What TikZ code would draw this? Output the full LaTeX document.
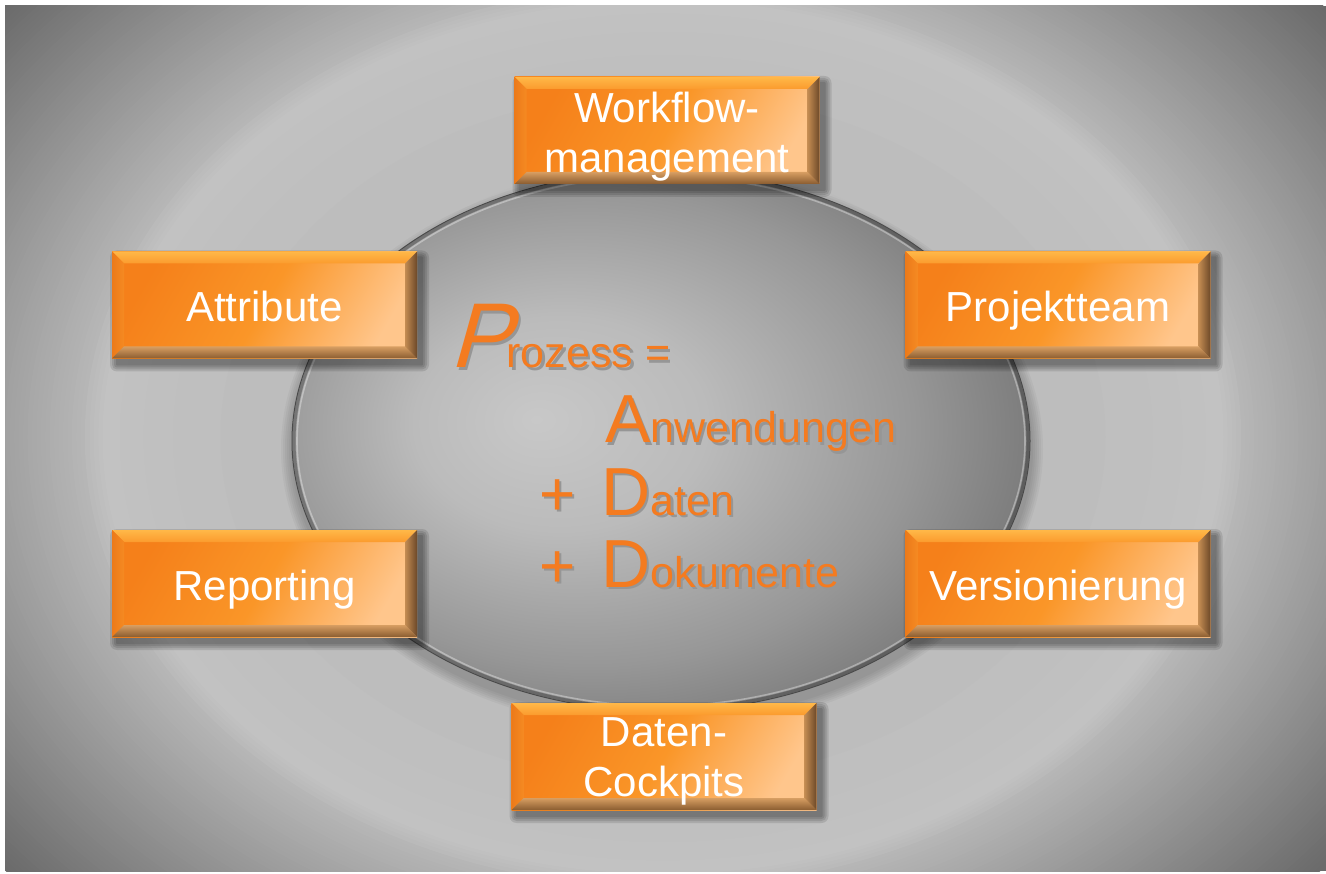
\documentclass[tikz,border=0pt]{standalone}
\usepackage{fontspec}
\setmainfont{Liberation Sans}
\newfontfamily\slantfont[FakeSlant=0.28]{Liberation Sans}
\definecolor{elA}{HTML}{C8C8C8}
\definecolor{elB}{HTML}{BBBBBB}
\definecolor{elC}{HTML}{979797}
\definecolor{elD}{HTML}{767676}
\definecolor{elE}{HTML}{5E5E5E}
\definecolor{elRim}{HTML}{4A4A4A}
\definecolor{orDeep}{HTML}{F5801A}
\definecolor{orMid}{HTML}{FA9628}
\definecolor{orLight}{HTML}{FFC68C}
\definecolor{bevTopA}{HTML}{FFB848}
\definecolor{bevTopB}{HTML}{FB9B2E}
\definecolor{bevLeftA}{HTML}{EC7A1A}
\definecolor{bevLeftB}{HTML}{F58A22}
\definecolor{bevBotA}{HTML}{D79E62}
\definecolor{bevBotB}{HTML}{8A5C30}
\definecolor{bevRightA}{HTML}{C48C52}
\definecolor{bevRightB}{HTML}{6C4828}
\definecolor{procOrange}{HTML}{F47B20}
\definecolor{txtShadow}{HTML}{969696}
\pgfdeclareradialshading{ellshade}{\pgfpoint{-8.5bp}{2bp}}{color(0bp)=(elA); color(9.9bp)=(elB); color(21.9bp)=(elC); color(30.4bp)=(elD); color(35.4bp)=(elE); color(50bp)=(elE)}
\newcommand\shtxt[1]{\rlap{\kern2.5pt\raisebox{-2.5pt}{\color{txtShadow}#1}}#1}
\newcommand\bigL[1]{{\fontsize{68pt}{68pt}\selectfont #1}}
\newcommand\plusL{{\fontsize{62pt}{62pt}\selectfont +}}
\newcommand\orbox[5]{%
\begin{scope}[shift={(#2,#3)}]
 \foreach \s in {1,3,5,7}{\fill[black,opacity=0.11,rounded corners=\s pt] ({-152.5+5-\s},{-53.5+6-\s}) rectangle ({152.5+5+\s},{53.5+6+\s});}
 \shade[top color=orDeep,bottom color=orLight,middle color=orMid,shading angle=60] (-152.5,-53.5) rectangle (152.5,53.5);
 \shade[top color=bevTopA,bottom color=bevTopB] (-152.5,-53.5) -- (152.5,-53.5) -- (140.5,-41.5) -- (-140.5,-41.5) -- cycle;
 \shade[left color=bevLeftA,right color=bevLeftB] (-152.5,-53.5) -- (-140.5,-41.5) -- (-140.5,41.5) -- (-152.5,53.5) -- cycle;
 \shade[top color=bevBotA,bottom color=bevBotB] (-152.5,53.5) -- (-140.5,41.5) -- (140.5,41.5) -- (152.5,53.5) -- cycle;
 \shade[left color=bevRightA,right color=bevRightB] (152.5,-53.5) -- (152.5,53.5) -- (140.5,41.5) -- (140.5,-41.5) -- cycle;
\end{scope}
\node[boxtext] (#1) at (#2,{#3+#4-30.5}) {#5};
}
\tikzset{
 boxtext/.style={text=white, font=\fontsize{42pt}{50pt}\selectfont, align=center, inner sep=0pt, anchor=north},
 bigtxt/.style={text=procOrange, inner sep=0pt, anchor=base west, font=\fontsize{43pt}{43pt}\selectfont},
}
\begin{document}
\begin{tikzpicture}[x=1pt,y=-1pt]
\useasboundingbox (0,0) rectangle (1326,874);
\fill[white] (0,0) rectangle (1326,874);
% background: stepped elliptical gradient
\begin{scope}
 \clip (5,6) rectangle (1326,871);
 \fill[color={rgb,255:red,107;green,107;blue,107}] (5,6) rectangle (1326,871);
 \foreach \i in {0,...,63}{
  \pgfmathsetmacro\rr{1.46-\i*0.0075}
  \pgfmathtruncatemacro\gg{107+\i*1.2}
  \fill[color={rgb,255:red,\gg;green,\gg;blue,\gg}] (663,437) ellipse [x radius={\rr*590pt}, y radius={\rr*460pt}];
 }
 \foreach \rr/\gg in {0.98/186,0.972/188,0.965/190,0.957/192,0.95/194,0.92/193,0.88/192,0.83/191,0.75/189,0.6/187}{
  \fill[color={rgb,255:red,\gg;green,\gg;blue,\gg}] (663,437) ellipse [x radius={\rr*590pt}, y radius={\rr*460pt}];
 }
\end{scope}
% central ellipse
\foreach \k in {2,4,...,12}{\fill[black, opacity=0.035] (662,449) ellipse [x radius={369pt+\k pt}, y radius={270pt+\k pt}];}
\shade[shading=ellshade] (661,441) ellipse [x radius=369pt, y radius=270pt];
\draw[black, opacity=.25, line width=3pt] (661,441) ellipse [x radius=367pt, y radius=268pt];
\draw[white, opacity=.35, line width=1.6pt] (661,441) ellipse [x radius=364pt, y radius=265pt];
\draw[elRim, line width=1pt] (661,441) ellipse [x radius=369pt, y radius=270pt];
% boxes
\orbox{wf}{667}{130.5}{-8.5}{Workflow-\\management}
\orbox{attr}{264.5}{305}{16.5}{Attribute}
\orbox{proj}{1058}{305}{16.5}{Projektteam}
\orbox{rep}{264.5}{583.5}{16.5}{Reporting}
\orbox{vers}{1058}{583.5}{16.5}{Versionierung}
\orbox{cock}{664}{756.5}{-8.5}{Daten-\\Cockpits}
% central text
\node[bigtxt] (pLine) at (449,368) {\shtxt{{\slantfont\fontsize{92pt}{92pt}\selectfont P}\kern-4pt rozess =}};
\node[bigtxt] (aLine) at (605,443) {\shtxt{\bigL{A}nwendungen}};
\node[bigtxt] (dLine) at (539,515) {\shtxt{\plusL\hspace{26pt}\bigL{D}aten}};
\node[bigtxt] (kLine) at (539,587) {\shtxt{\plusL\hspace{26pt}\bigL{D}okumente}};
\end{tikzpicture}
\end{document}
